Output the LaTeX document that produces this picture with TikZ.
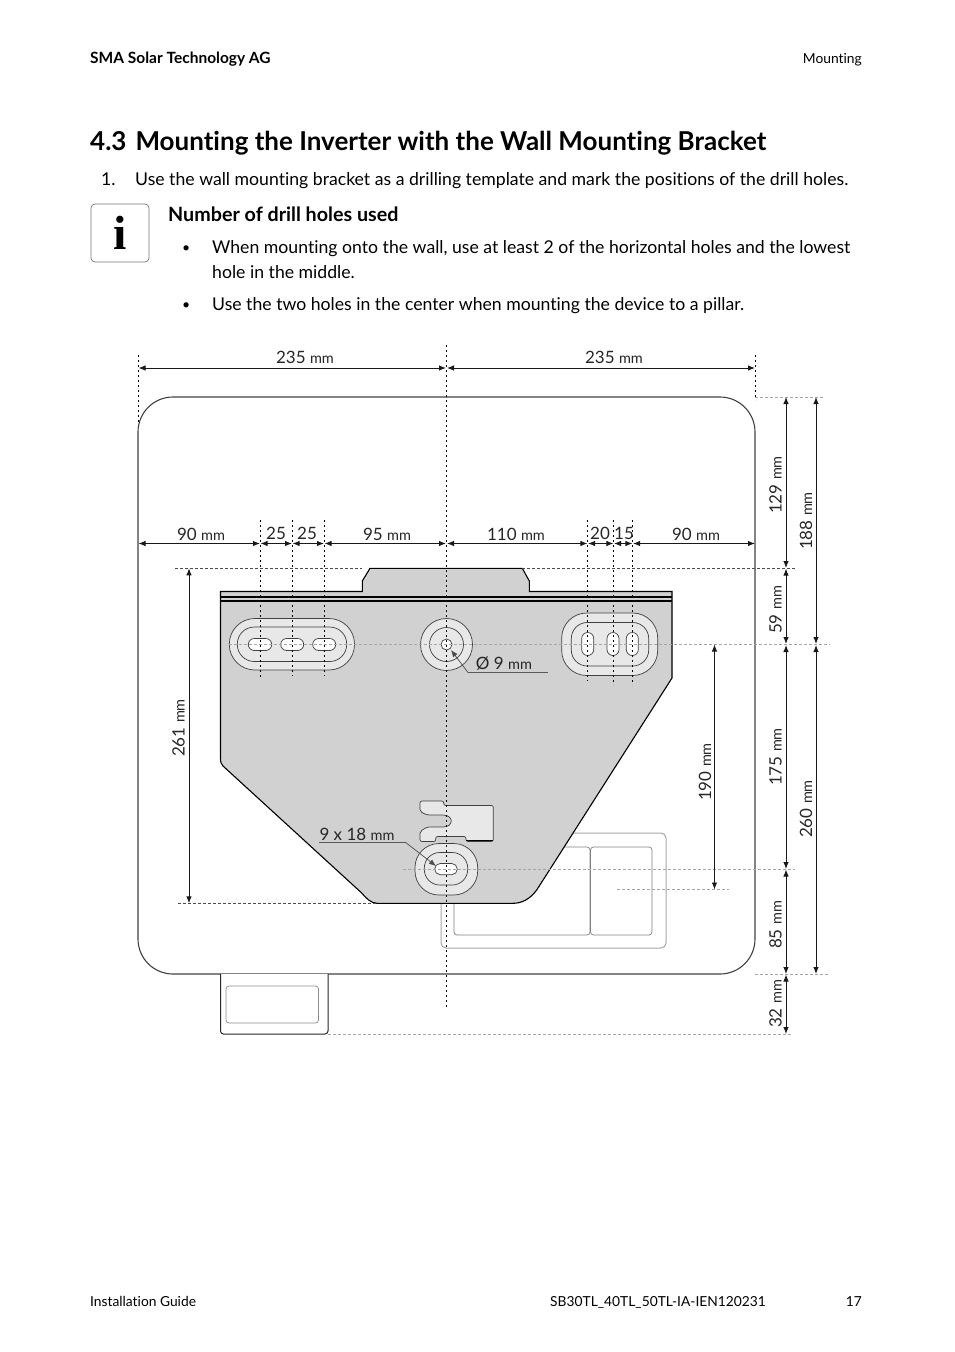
\documentclass[tikz,border=0pt]{standalone}
\usepackage{fontspec}
\setmainfont[Ligatures=NoCommon]{Lato}
\newfontfamily\iconfont{Liberation Serif}
\usetikzlibrary{arrows.meta}
\newcommand{\mmval}[1]{#1 {\fontsize{14.5}{14.5}\selectfont mm}}
\tikzset{
	txt/.style={anchor=base west, inner sep=0pt, font=\fontsize{17.65}{20}\selectfont},
	dot/.style={anchor=base west, inner sep=0pt, font=\fontsize{14}{16}\selectfont},
	small/.style={inner sep=0pt, font=\fontsize{13.8}{16}\selectfont},
	dimtxt/.style={inner sep=0pt, text=black!85, font=\fontsize{17}{17}\selectfont},
	vdimtxt/.style={dimtxt, rotate=90},
	dimline/.style={black!90, line width=0.9pt, {Latex[length=7pt,width=5.5pt]}-{Latex[length=7pt,width=5.5pt]}},
	leader/.style={black!70, line width=0.7pt, -{Latex[length=7pt,width=5.5pt]}},
	axisline/.style={black, line width=1pt, dash pattern=on 2pt off 3pt},
	extline/.style={black!35, line width=0.7pt, dash pattern=on 3pt off 2pt},
	extdark/.style={black!70, line width=0.6pt, dash pattern=on 3pt off 2pt},
	holeline/.style={draw=black!75, line width=0.7pt},
	paleline/.style={draw=black!35, line width=1pt}
}

\begin{document}
\begin{tikzpicture}[x=1pt, y=-1pt]
	%%%%% PAGE %%%%%
	\useasboundingbox (0,0) rectangle (954,1352);
	
	\node[anchor=base west, inner sep=0pt, font=\fontsize{15.5}{16}\selectfont\bfseries] (company) at (90, 63) {SMA Solar Technology AG};
	\node[small, anchor=base east] (chapter) at (862, 63) {Mounting};
	\node[anchor=base west, inner sep=0pt, font=\fontsize{26}{30}\selectfont\bfseries] (title) at (90, 150) {4.3\hspace{9pt}Mounting the Inverter with the Wall Mounting Bracket};
	\node[txt] (stepnum) at (101, 185) {1.};
	\node[txt] (steptxt) at (135, 185) {Use the wall mounting bracket as a drilling template and mark the positions of the drill holes.};
	
	\draw[black!55, line width=0.7pt, rounded corners=4pt] (91, 204) rectangle (149, 262);
	\node[inner sep=0pt, font=\fontsize{48}{48}\selectfont\iconfont\bfseries] (icon) at (120, 233) {i};
	\node[txt, font=\fontsize{19.7}{20}\selectfont\bfseries] (notehead) at (168, 221) {Number of drill holes used};
	\node[dot] (bulleta) at (182, 252) {•};
	\node[txt] (notea) at (212, 253) {When mounting onto the wall, use at least 2 of the horizontal holes and the lowest};
	\node[txt] (noteb) at (212, 278) {hole in the middle.};
	\node[dot] (bulletb) at (182, 309) {•};
	\node[txt] (notec) at (212, 310) {Use the two holes in the center when mounting the device to a pillar.};
	
	\node[small, anchor=base west] (guide) at (90, 1306) {Installation Guide};
	\node[small, anchor=base west] (docnum) at (550, 1306) {SB30TL\_40TL\_50TL-IA-IEN120231};
	\node[small, anchor=base east] (pagenum) at (862, 1306) {17};
	
	%%%%% HOUSING %%%%%
	\draw[black!75, line width=1.1pt, rounded corners=35pt] (138, 397) rectangle (755, 974);
	\draw[paleline, rounded corners=5pt] (441, 833) rectangle (666, 948);
	\draw[holeline, black!50, rounded corners=3pt] (454, 847) rectangle (590, 935);
	\draw[holeline, black!50, rounded corners=3pt] (590.5, 847) rectangle (652, 935);
	\draw[black!85, line width=1pt, rounded corners=3pt, fill=white] (220.5, 974) -- (220.5, 1034) -- (328, 1034) -- (328, 974);
	\draw[holeline, black!45, rounded corners=3pt] (226, 986) rectangle (318.5, 1023);
	
	%%%%% BRACKET %%%%%
	\draw[fill=black!18, line width=1.1pt] (220.5, 591.5) -- (362.3, 591.5) -- (362.3, 581) -- (370, 568.3) -- (522.3, 568.3) -- (529.3, 581) -- (529.3, 591.5) -- (672, 591.5) -- (672, 678) -- (536.7, 890) .. controls (530, 899) and (522, 903.3) .. (513, 903.3) -- (377, 903.3) .. controls (371, 903.3) and (366, 898) .. (361.7, 893) -- (223, 766) .. controls (221, 764) and (220.5, 762) .. (220.5, 758) -- cycle;
	\draw[line width=1.5pt] (220.5, 597) -- (672, 597);
	\draw[line width=1.5pt] (220.5, 601) -- (672, 601);
	
	%%%%% HOLES %%%%%
	\draw[holeline, fill=black!9, rounded corners=25.5pt] (229.3, 618.5) rectangle (354.5, 670);
	\draw[holeline, rounded corners=17pt] (237.3, 627) rectangle (346.7, 661.5);
	\draw[holeline, fill=white, rounded corners=6pt] (248.3, 638.5) rectangle (271.7, 650.5);
	\draw[holeline, fill=white, rounded corners=6pt] (280.7, 638.5) rectangle (303.7, 650.5);
	\draw[holeline, fill=white, rounded corners=6pt] (312.7, 638.5) rectangle (335.7, 650.5);
	
	\draw[holeline, fill=black!9] (446.5, 644.5) circle (26);
	\draw[holeline] (446.5, 644.5) circle (17);
	\draw[holeline, fill=white] (446.5, 644.5) circle (5.5);
	
	\draw[holeline, fill=black!9, rounded corners=25pt] (561.7, 613) rectangle (657.7, 675.5);
	\draw[holeline, rounded corners=16pt] (571.3, 622.5) rectangle (648.7, 666);
	\draw[holeline, fill=white, rounded corners=6pt] (581.7, 632.5) rectangle (593.7, 655.5);
	\draw[holeline, fill=white, rounded corners=6pt] (607, 632.5) rectangle (619, 655.5);
	\draw[holeline, fill=white, rounded corners=6pt] (626.3, 632.5) rectangle (638.3, 655.5);
	
	\draw[holeline, fill=black!9, rounded corners=2pt] (420, 801) -- (443.7, 801) -- (443.7, 805.5) -- (493.3, 805.5) -- (493.3, 841.5) -- (466, 841.5) -- (466, 836.5) -- (435.7, 836.5) -- (435.7, 841.5) -- (420, 841.5) -- (420, 831.5) -- (427, 827) -- (441, 827) .. controls (454, 827) and (454, 815) .. (441, 815) -- (427, 815) -- (420, 811.5) -- cycle;
	\draw[black, line width=1pt] (466, 840.5) -- (493.3, 840.5);
	
	\draw[holeline, fill=black!9, rounded corners=24pt] (415, 843.5) rectangle (477.7, 895);
	\draw[holeline, rounded corners=15.5pt] (424.3, 852.5) rectangle (467.7, 885);
	\draw[holeline, fill=white, rounded corners=5.5pt] (434.7, 863.5) rectangle (457.3, 874.7);
	
	%%%%% EXTENSION LINES %%%%%
	\draw[extdark] (175, 568.3) -- (362, 568.3);
	\draw[extdark] (522, 568.3) -- (795, 568.3);
	\draw[extdark] (178, 903.3) -- (377, 903.3);
	\draw[extline] (755, 397) -- (825, 397);
	\draw[extline] (229, 644.5) -- (830, 644.5);
	\draw[extline] (403, 869) -- (795, 869);
	\draw[extline] (617, 889.5) -- (729, 889.5);
	\draw[extline] (755, 974) -- (830, 974);
	\draw[extline] (328, 1034) -- (792, 1034);
	
	\draw[axisline] (138.5, 355) -- (138.5, 425);
	\draw[axisline] (755, 355) -- (755, 400);
	\draw[axisline] (446.5, 345) -- (446.5, 1008);
	\draw[axisline] (260.3, 520) -- (260.3, 677);
	\draw[axisline] (292.3, 520) -- (292.3, 676);
	\draw[axisline] (324.3, 520) -- (324.3, 676);
	\draw[axisline] (587.7, 520) -- (587.7, 681);
	\draw[axisline] (613.7, 520) -- (613.7, 685);
	\draw[axisline] (632.7, 520) -- (632.7, 685);
	
	%%%%% DIMENSIONS %%%%%
	\draw[dimline] (138.5, 368) -- (446, 368);
	\draw[dimline] (447, 368) -- (755, 368);
	\draw[dimline] (138.5, 543.5) -- (260, 543.5);
	\draw[dimline] (260.6, 543.5) -- (292, 543.5);
	\draw[dimline] (292.6, 543.5) -- (324, 543.5);
	\draw[dimline] (324.6, 543.5) -- (446, 543.5);
	\draw[dimline] (447, 543.5) -- (587.4, 543.5);
	\draw[dimline] (588, 543.5) -- (613.4, 543.5);
	\draw[dimline] (614, 543.5) -- (632.4, 543.5);
	\draw[dimline] (633, 543.5) -- (755, 543.5);
	\draw[dimline] (786, 397) -- (786, 568);
	\draw[dimline] (786, 568.6) -- (786, 644);
	\draw[dimline] (786, 645) -- (786, 869);
	\draw[dimline] (786, 869.5) -- (786, 974);
	\draw[dimline] (786, 974.5) -- (786, 1034);
	\draw[dimline] (816, 397) -- (816, 644);
	\draw[dimline] (816, 645) -- (816, 974);
	\draw[dimline] (714.5, 644.5) -- (714.5, 889.5);
	\draw[dimline] (189, 568.3) -- (189, 903.3);
	
	\node[dimtxt] (topa) at (305, 357.5) {\mmval{235}};
	\node[dimtxt] (topb) at (614, 357.5) {\mmval{235}};
	\node[dimtxt] (mida) at (201, 534.5) {\mmval{90}};
	\node[dimtxt] (midb) at (276, 533) {25};
	\node[dimtxt] (midc) at (307, 533) {25};
	\node[dimtxt] (midd) at (387, 534.5) {\mmval{95}};
	\node[dimtxt] (mide) at (516, 534.5) {\mmval{110}};
	\node[dimtxt] (midf) at (600, 533.5) {20};
	\node[dimtxt] (midg) at (624, 533.5) {15};
	\node[dimtxt] (midh) at (696, 534.5) {\mmval{90}};
	\node[vdimtxt] (righta) at (775.5, 485) {\mmval{129}};
	\node[vdimtxt] (rightb) at (775.5, 610) {\mmval{59}};
	\node[vdimtxt] (rightc) at (775.5, 757) {\mmval{175}};
	\node[vdimtxt] (rightd) at (775.5, 925) {\mmval{85}};
	\node[vdimtxt] (righte) at (775.5, 1004) {\mmval{32}};
	\node[vdimtxt] (fara) at (806, 521) {\mmval{188}};
	\node[vdimtxt] (farb) at (806, 809) {\mmval{260}};
	\node[vdimtxt] (slotdim) at (705, 772) {\mmval{190}};
	\node[vdimtxt] (leftdim) at (178.5, 728) {\mmval{261}};
	
	%%%%% LEADERS %%%%%
	\node[dimtxt] (holetxt) at (504, 664) {Ø \mmval{9}};
	\node[dimtxt] (slottxt) at (357, 834.5) {9 x \mmval{18}};
	\draw[black!65, line width=0.7pt] (548, 672.5) -- (468, 672.5);
	\draw[leader] (468, 672.5) -- (451, 650);
	\draw[black!65, line width=0.7pt] (319, 842) -- (405, 842);
	\draw[leader] (405, 842) -- (436, 866);
\end{tikzpicture}
\end{document}
